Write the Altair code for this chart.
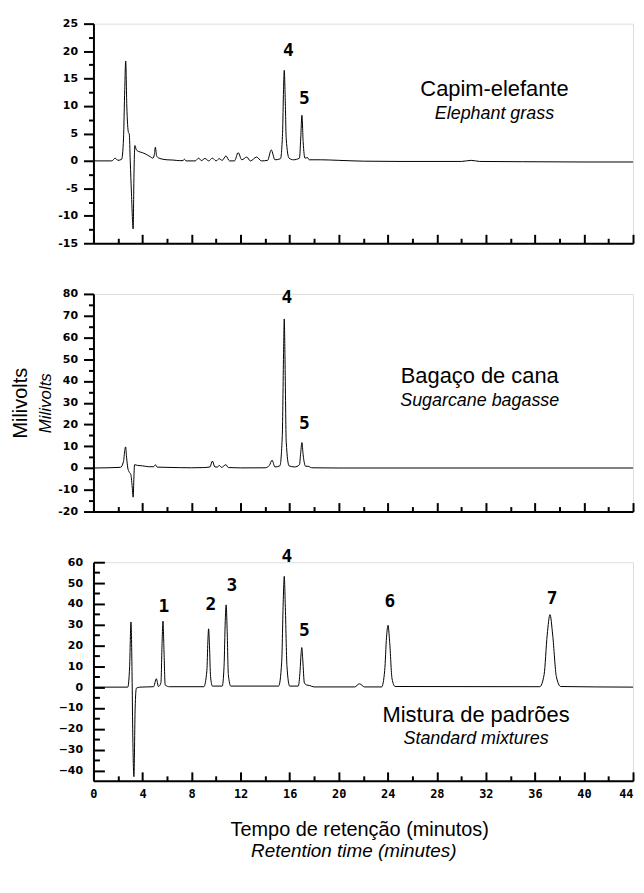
import altair as alt
import pandas as pd

# ---------------- data ----------------
# Capim-elefante / Elephant grass
CAPIM_T = [0, 1.5, 1.77, 2.0, 2.3, 2.45, 2.55, 2.63, 2.72, 2.85, 2.92, 3.0, 3.1, 3.24, 3.3, 3.38,
           3.5, 3.7, 4.0, 4.3, 4.6, 4.85, 4.97, 5.05, 5.15, 5.35, 6.0, 6.5, 7.0, 7.3, 7.42, 7.55,
           8.3, 8.58, 8.8, 9.1, 9.4, 9.7, 10.0, 10.25, 10.5, 10.8, 11.1, 11.5, 11.8, 12.1, 12.5,
           12.8, 13.3, 13.7, 14.2, 14.5, 14.8, 15.25, 15.42, 15.5, 15.56, 15.63, 15.72, 15.95,
           16.3, 16.8, 16.9, 17.0, 17.1, 17.25, 17.45, 17.6, 18.5, 20, 22, 25, 30, 30.8, 31.5,
           35, 40, 44]
CAPIM_MV = [0, 0, 0.5, 0.1, 0.3, 4, 13, 18.2, 10, 5.2, 4.9, 0, -6, -12.4, -3, 2.8,
            2.0, 1.7, 1.5, 1.2, 0.8, 0.5, 1.2, 2.5, 0.9, 0.5, 0.2, 0.15, 0.05, 0.05, 0.3, 0.0,
            0.0, 0.5, 0.05, 0.45, 0.0, 0.5, 0.0, 0.4, 0.1, 0.9, 0.0, 0.0, 1.5, 0.2, 0.7,
            0.0, 0.7, 0.0, 0.1, 2.0, 0.2, 0.4, 5, 13, 16.5, 12, 4, 0.5,
            0.2, 0.5, 4, 8.3, 3.5, 0.5, 0.6, 0.2, 0.2, 0.1, -0.05, -0.1, -0.1, 0.1, -0.1,
            -0.15, -0.2, -0.2]

# Bagaço de cana / Sugarcane bagasse
BAGACO_T = [0, 2.2, 2.45, 2.55, 2.62, 2.7, 2.8, 2.9, 3.05, 3.15, 3.24, 3.3, 3.35, 3.6, 4.0,
            4.5, 4.9, 5.05, 5.2, 6, 8, 9.0, 9.5, 9.7, 9.9, 10.1, 10.25, 10.45, 10.8, 11.0, 12,
            14.0, 14.35, 14.56, 14.8, 15.2, 15.4, 15.5, 15.56, 15.62, 15.72, 15.95, 16.4, 16.8,
            16.9, 17.0, 17.1, 17.3, 17.5, 17.8, 20, 44]
BAGACO_MV = [0, 0.3, 3, 8, 9.7, 5, 0, -1.7, -3, -8, -13.4, -4, 1.5, 1.2, 1.0,
             0.6, 0.6, 1.5, 0.4, 0.3, 0.1, 0.2, 0.5, 3.2, 0.5, 0.4, 1.2, 0.3, 1.5, 0.2, 0.05,
             0.1, 1.2, 3.6, 0.5, 1.0, 15, 52, 68.5, 50, 12, 1.0, 0.5, 1.5,
             7, 11.7, 6, 0.8, 0.8, 0.1, 0, 0]

# Mistura de padrões / Standard mixtures
MISTURA_T = [0, 2.8, 2.95, 3.06, 3.15, 3.2, 3.3, 3.4, 3.5, 3.8, 4.9, 5.13, 5.3, 5.5, 5.6, 5.67,
             5.75, 5.85, 6.2, 9.0, 9.25, 9.33, 9.39, 9.46, 9.55, 9.7, 10.5, 10.65, 10.75, 10.82,
             10.9, 11.0, 11.2, 15.1, 15.35, 15.48, 15.56, 15.64, 15.78, 16.0, 16.7, 16.85, 16.93,
             16.99, 17.07, 17.2, 17.4, 17.6, 18, 21.3, 21.7, 22.1, 23.5, 23.75, 23.9, 24.02,
             24.15, 24.35, 24.6, 36.4, 36.75, 37.0, 37.23, 37.45, 37.75, 38.1, 44]
MISTURA_MV = [0, 0, 10, 31.3, 5, -20, -43, -10, -0.5, 0, 0.2, 4.0, 0.3, 2, 22, 31.7,
              18, 1, 0.2, 0.2, 8, 22, 28, 20, 5, 0.5, 0.5, 10, 32, 39.5,
              28, 6, 0.5, 0.5, 12, 42, 53.2, 40, 10, 0.5, 0.5, 8, 16,
              19, 13, 2, 1.0, 0.8, 0.1, 0.1, 1.6, 0.1, 0.1, 8, 24, 29.7,
              22, 4, 0.3, 0.2, 6, 25, 34.8, 25, 5, 0.3, 0]

# peak numbers: label, retention time, mV (label anchor)
CAPIM_PEAKS = (["4", "5"], [15.9, 17.2], [20.0, 11.3])
BAGACO_PEAKS = (["4", "5"], [15.77, 17.2], [78.1, 20.4])
MISTURA_PEAKS = (["1", "2", "3", "4", "5", "6", "7"],
                 [5.75, 9.58, 11.28, 15.77, 17.2, 24.18, 37.41],
                 [38.4, 39.2, 48.7, 62.7, 26.8, 40.8, 42.4])

# sample names (Portuguese / English) with anchors in data units
CAPIM_NAME = ("Capim-elefante", "Elephant grass", 32.7, 13.0, 8.5)
BAGACO_NAME = ("Bagaço de cana", "Sugarcane bagasse", 31.5, 42.4, 30.7)
MISTURA_NAME = ("Mistura de padrões", "Standard mixtures", 31.2, -13.3, -25.1)

X_MAJOR = list(range(0, 45, 4))
X_MINOR = list(range(2, 44, 4))

CAPIM_Y_MAJOR = [-15, -10, -5, 0, 5, 10, 15, 20, 25]
CAPIM_Y_MINOR = [-12.5, -7.5, -2.5, 2.5, 7.5, 12.5, 17.5, 22.5]
BAGACO_Y_MAJOR = [-20, -10, 0, 10, 20, 30, 40, 50, 60, 70, 80]
BAGACO_Y_MINOR = [-15, -5, 5, 15, 25, 35, 45, 55, 65, 75]
MISTURA_Y_MAJOR = [-40, -30, -20, -10, 0, 10, 20, 30, 40, 50, 60]
MISTURA_Y_MINOR = [-35, -25, -15, -5, 5, 15, 25, 35, 45, 55]

W = 543
MONO = "DejaVu Sans Mono"


def tick_axis(orient, values, size, offset):
    return alt.Axis(orient=orient, values=values, offset=offset, tickSize=size,
                    tickWidth=2, tickColor="black", ticks=True, labels=False,
                    domain=False, grid=False, title=None)


def panel(t, mv, ydom, ymajor, yminor, height, peaks, name, inward, xlabels, hyphen,
          extra=None):
    xs = alt.Scale(domain=[0, 44], nice=False, zero=False)
    ys = alt.Scale(domain=ydom, nice=False, zero=False)
    trace = pd.DataFrame({"t": t, "v": mv})

    x_main = alt.Axis(orient="bottom", values=X_MAJOR, ticks=False, labels=xlabels,
                      title=None, grid=False, domainWidth=2, domainColor="black",
                      labelPadding=8, labelFont=MONO, labelFontWeight="bold",
                      labelFontSize=12, labelColor="black",
                      labelAlign=alt.expr("datum.value >= 44 ? 'right' : 'center'"))
    yaxis = dict(orient="left", values=ymajor, title=None, grid=False, domainWidth=2,
                 domainColor="black", labelFont="DejaVu Sans", labelFontWeight="bold",
                 labelFontSize=11, labelColor="black")
    if inward:
        yaxis.update(ticks=False, labelPadding=11)
    else:
        yaxis.update(ticks=True, tickSize=10, tickWidth=2, tickColor="black",
                     labelPadding=6)
    if hyphen:
        yaxis["labelExpr"] = "replace(datum.label, '\u2212', '-')"

    line = alt.Chart(trace).mark_line(
        color="black", strokeWidth=1, interpolate="monotone").encode(
        x=alt.X("t:Q", scale=xs, axis=x_main),
        y=alt.Y("v:Q", scale=ys, axis=alt.Axis(**yaxis)))

    # tick-only axes (inward ticks are made by shifting the axis into the plot)
    def xt(values, size):
        return alt.Chart(trace).mark_line(opacity=0).encode(
            x=alt.X("t:Q", scale=xs, axis=tick_axis("bottom", values, size, -size)),
            y=alt.Y("v:Q", scale=ys, axis=None))

    def yt(values, size, off):
        return alt.Chart(trace).mark_line(opacity=0).encode(
            x=alt.X("t:Q", scale=xs, axis=None),
            y=alt.Y("v:Q", scale=ys, axis=tick_axis("left", values, size, off)))

    layers = [line, xt(X_MAJOR, 9), xt(X_MINOR, 5)]
    if inward:
        layers += [yt(ymajor, 11, -11), yt(yminor, 6, -6)]
    else:
        layers += [yt(yminor, 5, 0)]

    X = alt.X("t:Q", scale=xs, axis=None)
    Y = alt.Y("v:Q", scale=ys, axis=None)

    pk = alt.Chart(pd.DataFrame({"label": peaks[0], "t": peaks[1], "v": peaks[2]})).mark_text(
        font=MONO, fontWeight="bold", fontSize=18, color="black",
        align="center", baseline="middle").encode(x=X, y=Y, text="label:N")

    n1 = alt.Chart(pd.DataFrame({"label": [name[0]], "t": [name[2]], "v": [name[3]]})).mark_text(
        font="Liberation Sans", fontSize=22, color="black", align="center",
        baseline="middle").encode(x=X, y=Y, text="label:N")
    n2 = alt.Chart(pd.DataFrame({"label": [name[1]], "t": [name[2]], "v": [name[4]]})).mark_text(
        font="Liberation Sans", fontSize=18, fontStyle="italic", color="black",
        align="center", baseline="middle").encode(x=X, y=Y, text="label:N")

    layers += [pk, n1, n2]
    if extra:
        layers += extra
    return alt.layer(*layers).resolve_axis(x="independent", y="independent").properties(
        width=W, height=height)


# y-axis title (two languages), drawn to the left of the middle panel
ylab1 = alt.Chart(pd.DataFrame({"label": ["Milivolts"]})).mark_text(
    font="Liberation Sans", fontSize=20, angle=270, color="black", align="center",
    baseline="middle").encode(text="label:N", x=alt.value(-73), y=alt.value(110))
ylab2 = alt.Chart(pd.DataFrame({"label": ["Milivolts"]})).mark_text(
    font="Liberation Sans", fontSize=17, fontStyle="italic", angle=270, color="black",
    align="center", baseline="middle").encode(text="label:N", x=alt.value(-48),
                                              y=alt.value(110))

# x-axis title (two languages), below the bottom panel
xlab1 = alt.Chart(pd.DataFrame({"label": ["Tempo de retenção (minutos)"]})).mark_text(
    font="Liberation Sans", fontSize=20, color="black", align="center",
    baseline="middle").encode(text="label:N", x=alt.value(268), y=alt.value(270))
xlab2 = alt.Chart(pd.DataFrame({"label": ["Retention time (minutes)"]})).mark_text(
    font="Liberation Sans", fontSize=19, fontStyle="italic", color="black", align="center",
    baseline="middle").encode(text="label:N", x=alt.value(262), y=alt.value(291))

top = panel(CAPIM_T, CAPIM_MV, [-15, 25], CAPIM_Y_MAJOR, CAPIM_Y_MINOR, 221,
            CAPIM_PEAKS, CAPIM_NAME, False, False, True)
mid = panel(BAGACO_T, BAGACO_MV, [-20, 80], BAGACO_Y_MAJOR, BAGACO_Y_MINOR, 219,
            BAGACO_PEAKS, BAGACO_NAME, False, False, True, extra=[ylab1, ylab2])
bot = panel(MISTURA_T, MISTURA_MV, [-45, 60], MISTURA_Y_MAJOR, MISTURA_Y_MINOR, 220,
            MISTURA_PEAKS, MISTURA_NAME, True, True, False, extra=[xlab1, xlab2])

chart = alt.vconcat(top, mid, bot, spacing=51, bounds="flush").properties(
    padding={"left": 2, "top": 6, "right": 0, "bottom": 4}
).configure_view(stroke=None).configure(background="white")

chart.save("out.html", embed_options={"renderer": "svg", "actions": False})
